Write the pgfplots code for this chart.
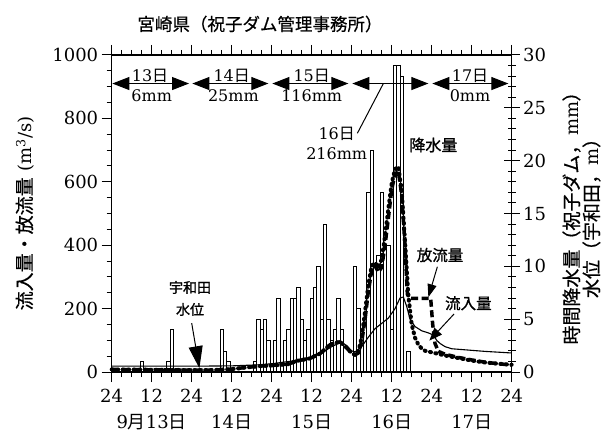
\documentclass[border=0pt]{standalone}
\usepackage{pgfplots}
\pgfplotsset{compat=1.18}
\usepackage{pgfplotstable}
\usepackage{fontspec}
\usetikzlibrary{arrows.meta}
\setmainfont{DejaVu Serif}
\newfontfamily\jp{Noto Sans CJK JP}
\newfontfamily\jpb[FakeBold=1.2]{Noto Sans CJK JP}
\newfontfamily\jpm[FakeBold=0.5]{Noto Sans CJK JP}

% hourly rainfall at the dam (mm); hour counted from 13 Sep 00:00
\pgfplotstableread{
h mm
9 1
17 1
18 4
33 4
34 2
35 1
43 1
44 5
45 4
46 5
47 3
49 3
50 7
52 3
53 4
54 7
55 7
56 8
57 5
58 3
59 4
60 7
61 8
62 10
63 5
64 14
65 5
66 3
67 4
68 7
69 4
73 10
74 6
75 3
76 5
77 17
78 21
79 10
80 11
81 17
82 12
83 12
84 4
85 29
86 29
87 28
89 2
}\rain

% water level at Uwada (m)
\pgfplotstableread{
h m
0 0.55
12 0.55
24 0.55
36 0.58
44 0.68
48 0.78
52 0.95
56 1.1
60 1.35
63 1.8
66 2.4
68 2.7
69 2.8
70.5 2.5
72 2.0
73 1.9
75 2.4
77 3.3
79 4.1
81 4.6
83 5.1
85 6.0
86.5 7.0
87.5 7.1
88.5 6.2
89.5 5.0
91 4.3
93 3.9
95 3.7
96.5 3.5
97.5 3.0
98.5 2.7
100 2.4
102 2.2
106 2.1
112 1.95
120 1.8
}\level

% inflow (m^3/s)
\pgfplotstableread{
h q
0 8
12 7
24 6
30 6
36 9
40 14
45 19
50 22
53 25
55.5 35
59.5 43
62.5 58
65.5 86
67 92
68.5 95
70 82
71 70
72 60
73 54
74 65
75 110
76 190
77 275
78 335
79 345
80 330
81 355
82 430
83 515
84 595
85 640
86 648
87 570
88 410
89 240
90 150
91 108
92 86
93 74
94 67
96 62
98 57
100 52
104 44
108 36
112 30
116 26
120 23
}\inflow

% outflow (m^3/s)
\pgfplotstableread{
h q
0 8
12 7
24 6
30 6
36 9
40 14
45 19
50 22
53 25
55.5 35
59.5 43
62.5 58
65.5 86
67 92
68.5 95
70 82
71 70
72 60
73 54
74 60
75 95
76 165
77 255
78 320
79 335
80 315
81 330
82 400
83 485
84 575
85 625
86 632
87 560
88 400
88.7 245
89.5 232
95.7 232
96.3 150
97 90
98 65
100 56
104 46
108 38
112 31
116 26
120 22
}\outflow

\tikzset{
  day/.style={line width=1bp,
    {Triangle[length=17bp,width=13bp]}-{Triangle[length=17bp,width=13bp]}},
  dlab/.style={font=\fontsize{16bp}{20bp}\selectfont, inner sep=0pt},
  note/.style={font=\jpb\fontsize{15.5bp}{18bp}\selectfont, inner sep=0pt},
}

\begin{document}
\begin{tikzpicture}
\path[use as bounding box] (-111.7bp,-62bp) rectangle (494.3bp,372bp);

% right axis: hourly rainfall bars and water level
\begin{axis}[
  at={(0,0)}, anchor=south west,
  scale only axis, width=400bp, height=317bp,
  xmin=0, xmax=120, ymin=0, ymax=30,
  axis x line=none, axis y line*=right,
  ytick={0,5,...,30}, minor y tick num=4,
  tick align=center, major tick length=16bp, minor tick length=8bp,
  axis line style={line width=1.2bp},
  tick style={line width=1bp, black},
  tick label style={font=\fontsize{18bp}{24bp}\selectfont},
  /pgf/number format/assume math mode=true,
  clip=false,
]
\addplot[ybar, bar width=1, bar shift=0pt, fill=white, draw=black, line width=0.6bp]
  table[x=h, y=mm] {\rain};
\addplot[black, line width=1.1bp] table[x=h, y=m] {\level};
\end{axis}

% left axis: inflow and outflow
\begin{axis}[
  at={(0,0)}, anchor=south west,
  scale only axis, width=400bp, height=317bp,
  xmin=0, xmax=120, ymin=0, ymax=1000,
  ytick pos=left,
  xtick={0,12,...,120}, minor x tick num=3,
  xticklabels={24,{12\\9{\jp 月}13{\jp 日}},24,{12\\14{\jp 日}},24,{12\\15{\jp 日}},24,{12\\16{\jp 日}},24,{12\\17{\jp 日}},24},
  xticklabel style={align=center, yshift=-4bp},
  ytick={0,200,...,1000}, minor y tick num=3,
  scaled y ticks=false,
  tick align=outside, major tick length=10bp, minor tick length=5bp,
  axis line style={line width=1.2bp},
  tick style={line width=1bp, black},
  tick label style={font=\fontsize{18bp}{26bp}\selectfont},
  /pgf/number format/assume math mode=true,
  /pgf/number format/1000 sep={},
  clip=false,
]
\addplot[black, line width=3.5bp, dash pattern=on 7bp off 3.5bp] table[x=h, y=q] {\outflow};
\addplot[black, line width=4bp, line cap=round, dash pattern=on 1bp off 4.5bp] table[x=h, y=q] {\inflow};

% title and axis labels
\node[font=\jpm\fontsize{17.5bp}{20bp}\selectfont] at (rel axis cs:0.5,1) [xshift=-51.7bp, yshift=31bp] {宮崎県（祝子ダム管理事務所）};
\node[xshift=-86.7bp, rotate=90, font=\fontsize{18bp}{22bp}\selectfont] at (rel axis cs:0,0.5)
  {{\jpm\fontsize{19bp}{22bp}\selectfont 流入量・放流量} (m\textsuperscript{3}/s)};
\node[xshift=69.8bp, rotate=90, align=center, font=\fontsize{18bp}{20bp}\selectfont] at (rel axis cs:1,0.5)
  {{\jpm\fontsize{19bp}{20bp}\selectfont 時間降水量（祝子ダム，}mm{\jpm\fontsize{19bp}{20bp}\selectfont ）}\\{\jpm\fontsize{19bp}{20bp}\selectfont 水位（宇和田，}m{\jpm\fontsize{19bp}{20bp}\selectfont ）}};

% daily rainfall totals
\draw[day] (axis cs:0.2,910) -- (axis cs:23.2,910);
\draw[day] (axis cs:24.2,910) -- (axis cs:47,910);
\draw[day] (axis cs:48.2,910) -- (axis cs:71,910);
\draw[day] (axis cs:72.2,910) -- (axis cs:95,910);
\draw[day] (axis cs:96.2,910) -- (axis cs:119,910);
\node[dlab] at (axis cs:11.5,935) {13{\jp 日}};
\node[dlab] at (axis cs:12,871) {6mm};
\node[dlab] at (axis cs:36,935) {14{\jp 日}};
\node[dlab] at (axis cs:36.5,871) {25mm};
\node[dlab] at (axis cs:60,935) {15{\jp 日}};
\node[dlab] at (axis cs:60,871) {116mm};
\node[dlab] at (axis cs:107.5,935) {17{\jp 日}};
\node[dlab] at (axis cs:107.5,871) {0mm};
\node[dlab, align=center] at (axis cs:67.5,720) {16{\jp 日}\\216mm};
\draw[line width=1bp] (axis cs:73.7,753) -- (axis cs:81.5,910);

% series notes
\node[note, font=\jpb\fontsize{16bp}{18bp}\selectfont] at (axis cs:96.5,716) {降水量};
\node[note] at (axis cs:98.5,369) {放流量};
\draw[line width=1bp, -{Triangle[length=13bp,width=9bp]}] (axis cs:97.7,332) -- (axis cs:95.0,236);
\node[note] at (axis cs:107,217) {流入量};
\draw[line width=1bp, -{Triangle[length=13bp,width=10bp]}] (axis cs:102.7,183) -- (axis cs:95.3,99);
\node[note, align=center, font=\jpb\fontsize{14bp}{22bp}\selectfont] at (axis cs:23.5,232) {宇和田\\水位};
\draw[line width=1bp, -{Triangle[length=22bp,width=14bp]}] (axis cs:24.0,154) -- (axis cs:26.3,12);
\end{axis}
\end{tikzpicture}
\end{document}
